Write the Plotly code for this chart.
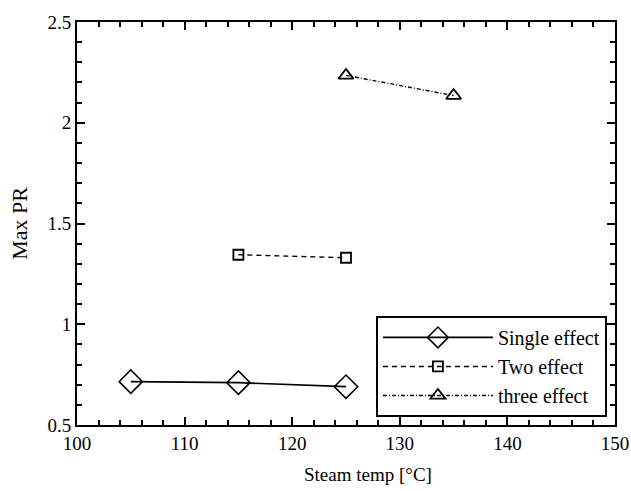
import plotly.graph_objects as go

single_x = [105, 115, 125]
single_y = [0.715, 0.71, 0.69]
two_x = [115, 125]
two_y = [1.345, 1.33]
three_x = [125, 135]
three_y = [2.235, 2.135]

FAM = "Liberation Serif, Times New Roman, serif"
tfont = dict(family=FAM, size=19, color="black")

fig = go.Figure()
fig.add_trace(go.Scatter(x=single_x, y=single_y, name="Single effect", mode="lines+markers",
                         line=dict(color="black", width=1.7),
                         marker=dict(symbol="diamond-open", size=18, color="black", line=dict(width=1.6))))
fig.add_trace(go.Scatter(x=two_x, y=two_y, name="Two effect", mode="lines+markers",
                         line=dict(color="black", width=1.4, dash="5px,4px"),
                         marker=dict(symbol="square-open", size=10, color="black", line=dict(width=1.8))))
fig.add_trace(go.Scatter(x=three_x, y=three_y, name="three effect", mode="lines+markers",
                         line=dict(color="black", width=1.4, dash="4px,2px,1px,2px"),
                         marker=dict(symbol="triangle-up-open", size=13, color="black", line=dict(width=1.8))))

axis_common = dict(showline=True, linecolor="black", linewidth=2, mirror="ticks",
                   ticks="inside", ticklen=8, tickwidth=2, tickcolor="black",
                   showgrid=False, zeroline=False, tickfont=tfont)
fig.update_xaxes(range=[100, 150], dtick=10,
                 minor=dict(dtick=2, ticks="inside", ticklen=5, tickwidth=1.5, tickcolor="black", showgrid=False),
                 **axis_common)
fig.update_yaxes(range=[0.5, 2.5], dtick=0.5,
                 title=dict(text="Max PR", font=dict(family=FAM, size=22, color="black"), standoff=14),
                 minor=dict(dtick=0.1, ticks="inside", ticklen=5, tickwidth=1.5, tickcolor="black", showgrid=False),
                 **axis_common)
fig.add_annotation(text="Steam temp [°C]", xref="paper", yref="paper", x=0.541, y=-0.122,
                   xanchor="center", yanchor="middle", showarrow=False,
                   font=dict(family=FAM, size=19, color="black"))
fig.update_layout(
    width=631, height=491,
    margin=dict(l=77, r=16, t=22, b=66, autoexpand=False),
    plot_bgcolor="white", paper_bgcolor="white",
    font=tfont,
    showlegend=True,
    legend=dict(x=0.985, y=0.02, xanchor="right", yanchor="bottom",
                bgcolor="white", bordercolor="black", borderwidth=2,
                font=dict(family=FAM, size=20, color="black"),
                itemwidth=110, tracegroupgap=0),
)
fig.write_html("out.html")
